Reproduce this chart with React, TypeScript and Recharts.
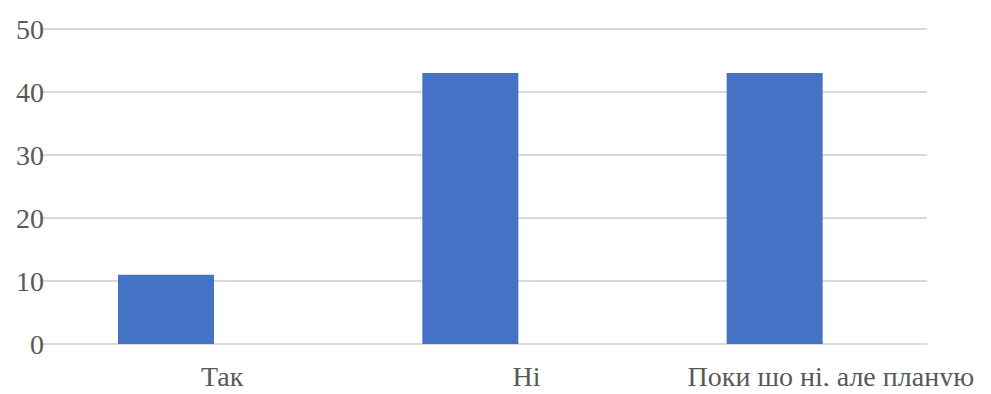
import React from "react";
import { BarChart, Bar, XAxis, YAxis, CartesianGrid } from "recharts";

// Survey answers and how many people gave each one
const answers = ["Так", "Ні", "Поки що ні, але планую"];
const counts = [11, 43, 43];
const yTicks = [0, 10, 20, 30, 40, 50];

const data = answers.map((answer, i) => ({ answer, count: counts[i] }));

const FONT = "'Liberation Serif', 'Times New Roman', serif";
const tickStyle = { fill: "#595959", fontSize: 28, fontFamily: FONT };

export default function App() {
  return (
    <div
      style={{
        margin: -8,
        width: 991,
        height: 394,
        background: "#fff",
        fontFamily: FONT,
      }}
    >
      <BarChart
        width={991}
        height={394}
        data={data}
        margin={{ top: 29, right: 64, left: 0, bottom: 0 }}
        style={{ fontFamily: FONT }}
      >
        <CartesianGrid vertical={false} stroke="#d9d9d9" strokeWidth={2} />
        <XAxis
          dataKey="answer"
          height={50}
          axisLine={false}
          tickLine={false}
          tickSize={0}
          tickMargin={22}
          padding={{ left: -26, right: 0 }}
          interval={0}
          tick={{ ...tickStyle, dx: 56, style: { fontFamily: FONT } }}
        />
        <YAxis
          width={40}
          domain={[0, 50]}
          ticks={yTicks}
          axisLine={false}
          tickLine={false}
          tickSize={0}
          tickMargin={0}
          tick={{ ...tickStyle, dx: 4, style: { fontFamily: FONT } }}
        />
        <Bar
          dataKey="count"
          fill="#4472c4"
          barSize={96}
          isAnimationActive={false}
        />
      </BarChart>
    </div>
  );
}
